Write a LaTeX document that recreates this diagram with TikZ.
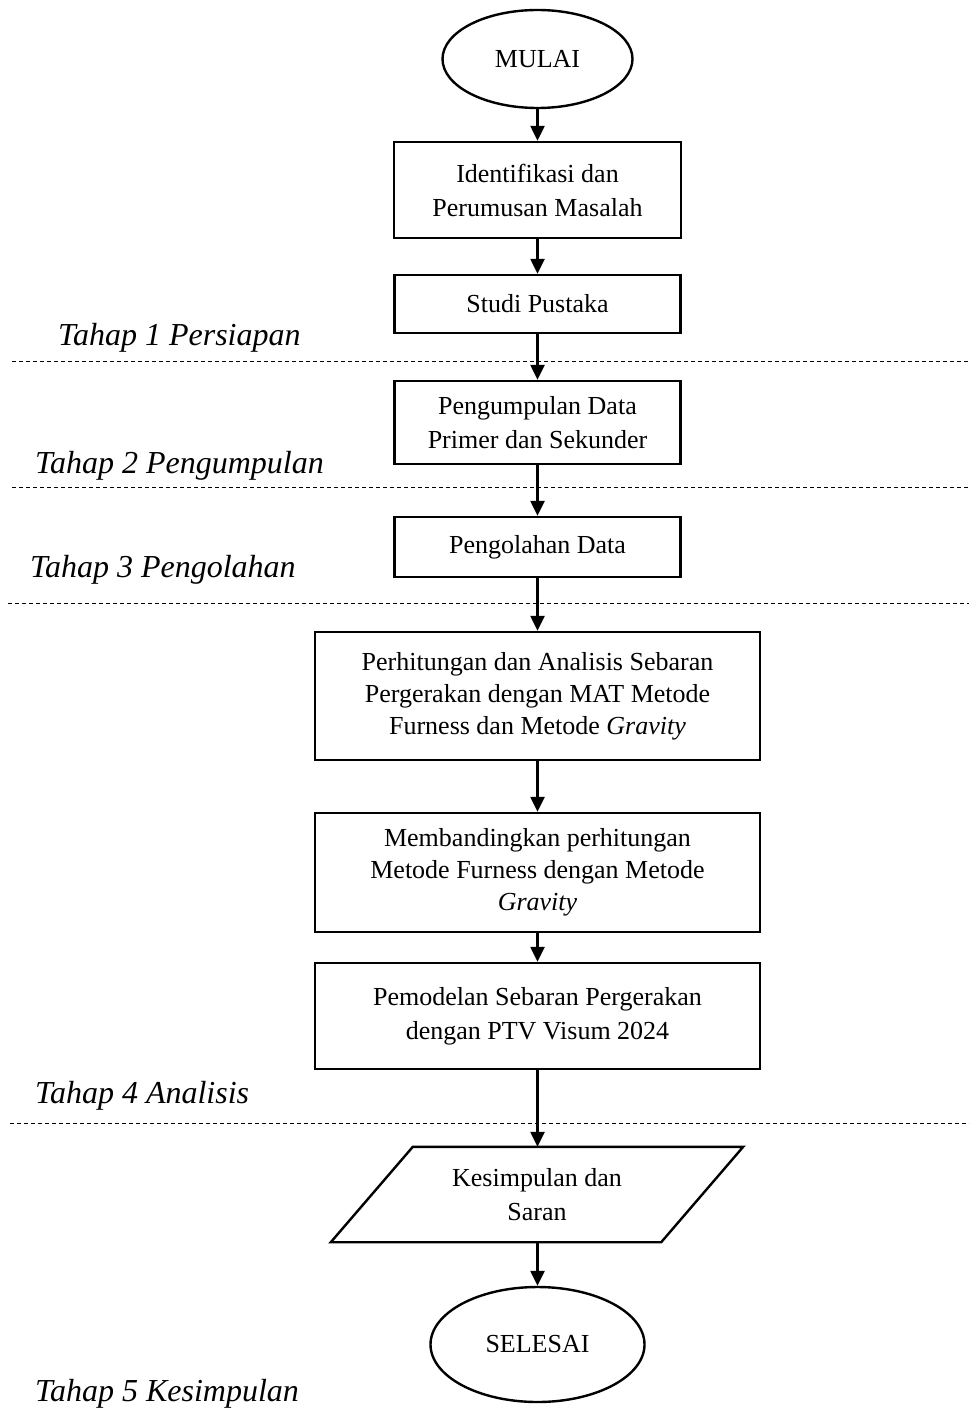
\documentclass[tikz,border=0pt]{standalone}
\usepackage{fontspec}
\setmainfont{Liberation Serif}
\usetikzlibrary{shapes.geometric,arrows.meta}
\begin{document}
\begin{tikzpicture}[x=1pt,y=-1pt,
  box/.style={draw,line width=2.4pt,rectangle,inner sep=0pt,align=center,font=\fontsize{26}{34}\selectfont},
  ell/.style={draw,line width=2.4pt,ellipse,inner sep=0pt,font=\fontsize{26}{34}\selectfont},
  arr/.style={line width=2.4pt,-{Triangle[length=15pt,width=14pt]}},
  sep/.style={line width=0.9pt,dash pattern=on 4pt off 3pt},
  tahap/.style={anchor=base west,inner sep=0pt,font=\fontsize{32}{36}\selectfont\itshape}]
\useasboundingbox (0,0) rectangle (969,1415);
\node[ell,minimum width=190pt,minimum height=98pt] (mulai) at (537.5,59) {MULAI};
\node[box,minimum width=287pt,minimum height=96pt] (b1) at (537.5,190) {Identifikasi dan\\Perumusan Masalah};
\node[box,minimum width=286pt,minimum height=58pt] (b2) at (537.5,304) {Studi Pustaka};
\node[box,minimum width=286pt,minimum height=83pt] (b3) at (537.5,422.5) {Pengumpulan Data\\Primer dan Sekunder};
\node[box,minimum width=286pt,minimum height=60pt] (b4) at (537.5,547) {Pengolahan Data};
\node[box,minimum width=445pt,minimum height=128pt,font=\fontsize{26}{32}\selectfont] (b5) at (537.5,696) {Perhitungan dan Analisis Sebaran\\Pergerakan dengan MAT Metode\\Furness dan Metode \textit{Gravity}};
\node[box,minimum width=445pt,minimum height=119pt,font=\fontsize{26}{32}\selectfont] (b6) at (537.5,872.5) {Membandingkan perhitungan\\Metode Furness dengan Metode\\\textit{Gravity}};
\node[box,minimum width=445pt,minimum height=106pt] (b7) at (537.5,1016) {Pemodelan Sebaran Pergerakan\\dengan PTV Visum 2024};
\node[align=center,inner sep=0pt,minimum width=412pt,minimum height=95pt,font=\fontsize{26}{34}\selectfont] (para) at (537,1194.5) {Kesimpulan dan\\Saran};
\draw[line width=2.4pt,line join=miter] (para.south west) -- ([xshift=82pt]para.north west) -- (para.north east) -- ([xshift=-82pt]para.south east) -- cycle;
\node[ell,minimum width=214pt,minimum height=115pt] (selesai) at (537.5,1344.5) {SELESAI};

\draw[arr] (mulai.south) -- (b1.north);
\draw[arr] (b1.south) -- (b2.north);
\draw[arr] (b2.south) -- (b3.north);
\draw[arr] (b3.south) -- (b4.north);
\draw[arr] (b4.south) -- (b5.north);
\draw[arr] (b5.south) -- (b6.north);
\draw[arr] (b6.south) -- (b7.north);
\draw[arr] (b7.south) -- (para.north -| b7.south);
\draw[arr] (para.south -| selesai.north) -- (selesai.north);

\coordinate (d1a) at (12,361); \coordinate (d1b) at (969,361);
\coordinate (d2a) at (12,487); \coordinate (d2b) at (969,487);
\coordinate (d3a) at (8,603); \coordinate (d3b) at (969,603);
\coordinate (d4a) at (10,1123); \coordinate (d4b) at (969,1123);
\draw[sep] (d1a) -- (d1b);
\draw[sep] (d2a) -- (d2b);
\draw[sep] (d3a) -- (d3b);
\draw[sep] (d4a) -- (d4b);

\node[tahap] (t1) at (58,345) {Tahap 1 Persiapan};
\node[tahap] (t2) at (35,473) {Tahap 2 Pengumpulan};
\node[tahap] (t3) at (30,577) {Tahap 3 Pengolahan};
\node[tahap] (t4) at (35,1103) {Tahap 4 Analisis};
\node[tahap] (t5) at (35,1401) {Tahap 5 Kesimpulan};
\end{tikzpicture}
\end{document}
